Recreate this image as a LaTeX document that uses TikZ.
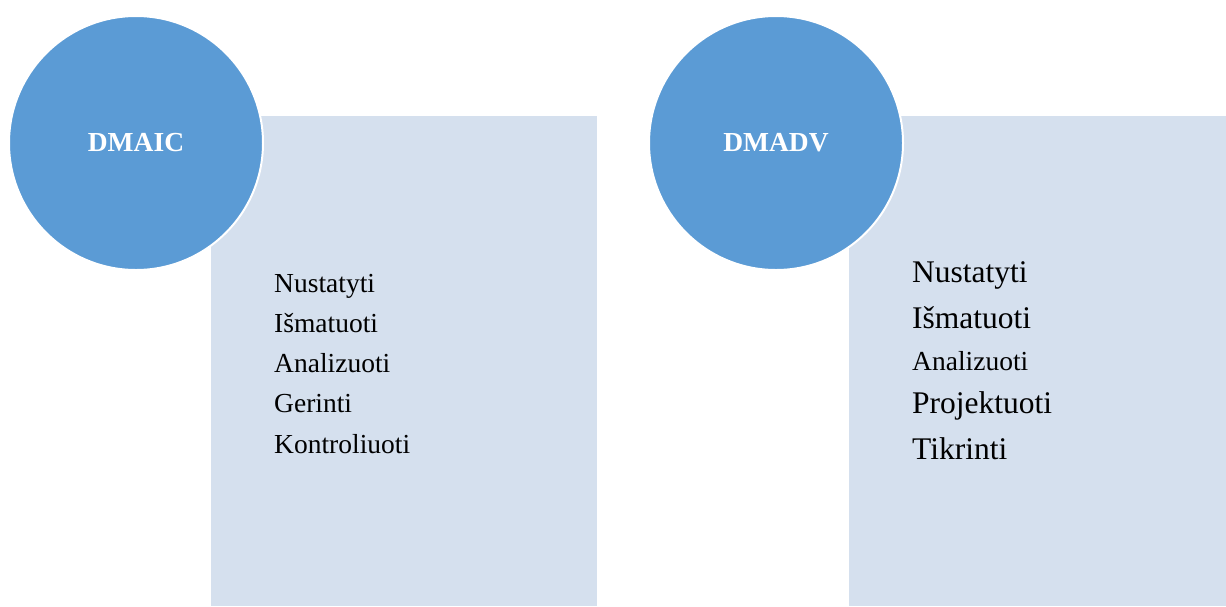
\documentclass[tikz,border=0pt]{standalone}
\usepackage{fontspec}
\setmainfont{Liberation Serif}
\definecolor{circblue}{HTML}{5B9BD5}
\definecolor{boxblue}{HTML}{D5E0EE}

\begin{document}
\begin{tikzpicture}[x=1pt,y=-1pt,
    panel/.style={rectangle, fill=boxblue, anchor=north west, minimum width=386pt, minimum height=490pt, inner sep=0pt},
    badge/.style={circle, fill=circblue, draw=white, line width=2pt, minimum size=254pt, inner sep=0pt, text=white, font=\fontsize{27.5}{30}\selectfont\bfseries},
    item/.style={anchor=base west, inner sep=0pt, font=\fontsize{27.5}{30}\selectfont},
    bigitem/.style={anchor=base west, inner sep=0pt, font=\fontsize{31.5}{34}\selectfont}]

        \useasboundingbox (0,0) rectangle (1226,606);

        % left group
        \node[panel] (box1) at (211, 116) {};
        \node[badge] (dmaic) at (136, 143) {DMAIC};
        \node[item] (n1) at (274, 292) {Nustatyti};
        \node[item] (i1) at (274, 332) {Išmatuoti};
        \node[item] (a1) at (274, 372) {Analizuoti};
        \node[item] (g1) at (274, 412) {Gerinti};
        \node[item] (k1) at (274, 453) {Kontroliuoti};

        % right group
        \node[panel, minimum width=377pt] (box2) at (849, 116) {};
        \node[badge] (dmadv) at (776, 143) {DMADV};
        \node[bigitem] (n2) at (912, 282) {Nustatyti};
        \node[bigitem] (i2) at (912, 328) {Išmatuoti};
        \node[item] (a2) at (912, 370) {Analizuoti};
        \node[bigitem] (p2) at (912, 413) {Projektuoti};
        \node[bigitem] (t2) at (912, 459) {Tikrinti};
    \end{tikzpicture}
\end{document}
